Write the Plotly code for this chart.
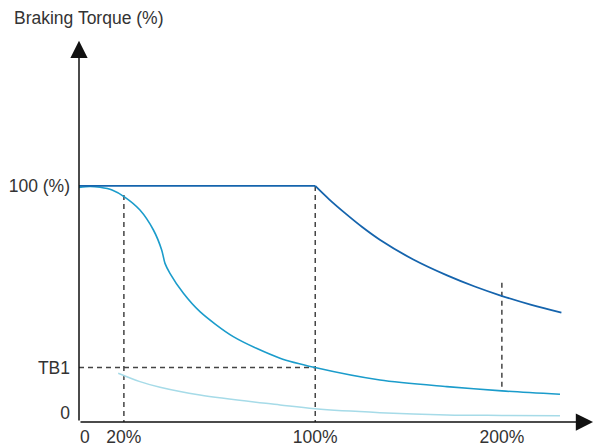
import plotly.graph_objects as go

# ---- data (schematic units: x in chart units, y in % of braking torque) ----
x_tick_pos = [2.5, 19, 100, 179]
x_tick_text = ["0", "20%", "100%", "200%"]
y_tick_pos = [0, 20, 100]
y_tick_text = ["0", "TB1", "100 (%)"]

curve1_x = [0, 100, 106, 113, 120, 127.5, 141.5, 155.8, 167.5, 179.1, 191.5, 204.2]
curve1_y = [100, 100, 94.0, 87.7, 81.8, 76.2, 67.6, 60.6, 55.7, 51.5, 47.6, 44.2]

curve2_x = [0, 4.7, 8.9, 14.0, 19.5, 25.8, 31.5, 35.0, 36.4, 38.5, 44.2, 51.2, 65.3, 85.1,
            99.9, 127.4, 155.7, 179.0, 203.6]
curve2_y = [99.4, 99.8, 99.4, 98.2, 95.0, 89.4, 80.6, 71.8, 65.9, 61.5, 52.7, 44.6, 33.6, 24.1,
            20.0, 14.5, 11.6, 9.7, 8.2]

curve3_x = [16.6, 25.8, 34.3, 51.2, 85.1, 99.9, 127.4, 155.7, 179.0, 203.6]
curve3_y = [17.5, 13.8, 11.3, 7.9, 3.5, 1.8, 0.1, -0.9, -1.1, -1.2]

guide_20_x = [19, 19]
guide_20_y = [96, -4]
guide_tb1_x = [0, 100]
guide_tb1_y = [20, 20]
guide_100_x = [100, 100]
guide_100_y = [100, -4]
guide_200_x = [179, 179]
guide_200_y = [57.4, 9.7]

X_MAX = 218
Y_MIN, Y_MAX = -4, 165.2

DARK = "#1564ad"
MID = "#1b9ccb"
LIGHT = "#a6dbe8"
DASH = "#444444"
TXT = "#333333"
FONT = "Liberation Sans, Arial, sans-serif"

fig = go.Figure()

for gx, gy in [(guide_20_x, guide_20_y), (guide_tb1_x, guide_tb1_y),
               (guide_100_x, guide_100_y), (guide_200_x, guide_200_y)]:
    fig.add_trace(go.Scatter(x=gx, y=gy, mode="lines",
                             line=dict(color=DASH, width=1.5, dash="5px,4px"),
                             hoverinfo="skip", showlegend=False))

fig.add_trace(go.Scatter(x=curve3_x, y=curve3_y, mode="lines",
                         line=dict(color=LIGHT, width=1.5, shape="spline"), showlegend=False))
fig.add_trace(go.Scatter(x=curve2_x, y=curve2_y, mode="lines",
                         line=dict(color=MID, width=1.6, shape="spline", smoothing=0.8),
                         showlegend=False))
# flat part and decaying part of the top curve
fig.add_trace(go.Scatter(x=curve1_x[:2], y=curve1_y[:2], mode="lines",
                         line=dict(color=DARK, width=1.8), showlegend=False))
fig.add_trace(go.Scatter(x=curve1_x[1:], y=curve1_y[1:], mode="lines",
                         line=dict(color=DARK, width=1.8, shape="spline"), showlegend=False))

annotations = [
    # y axis with arrow
    dict(x=0, y=164.0, ax=0, ay=Y_MIN, xref="x", yref="y", axref="x", ayref="y",
         text="", showarrow=True, arrowhead=2, arrowsize=2.3, arrowwidth=1.5,
         arrowcolor="#111111"),
    # x axis with arrow
    dict(x=217.6, y=Y_MIN, ax=0, ay=Y_MIN, xref="x", yref="y", axref="x", ayref="y",
         text="", showarrow=True, arrowhead=2, arrowsize=2.3, arrowwidth=1.5,
         arrowcolor="#111111"),
    dict(x=-0.130, y=1.052, xref="paper", yref="paper", xanchor="left", yanchor="middle",
         text="Braking Torque (%)", showarrow=False,
         font=dict(family=FONT, size=17.5, color=TXT)),
]

fig.update_layout(
    width=594, height=446,
    margin=dict(l=79, r=0, t=38, b=24, autoexpand=False),
    paper_bgcolor="white", plot_bgcolor="white",
    annotations=annotations,
    font=dict(family=FONT, size=17.5, color=TXT),
    xaxis=dict(range=[0, X_MAX], showgrid=False, zeroline=False, showline=False,
               tickmode="array", tickvals=x_tick_pos, ticktext=x_tick_text,
               ticks="", ticklabelstandoff=2, automargin=False, fixedrange=True),
    yaxis=dict(range=[Y_MIN, Y_MAX], showgrid=False, zeroline=False, showline=False,
               tickmode="array", tickvals=y_tick_pos, ticktext=y_tick_text,
               ticks="", ticklabelstandoff=8, automargin=False, fixedrange=True),
)

fig.write_html("out.html", config={"displayModeBar": False},
               post_script="document.body.style.margin='0';document.body.style.padding='0';")
